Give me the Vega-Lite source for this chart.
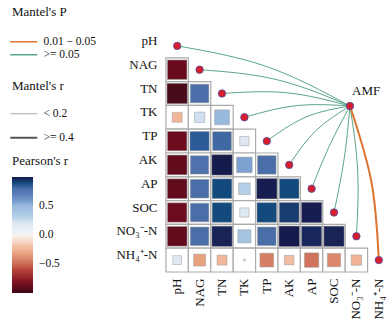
{
  "$schema": "https://vega.github.io/schema/vega-lite/v6.json",
  "width": 224,
  "height": 238,
  "autosize": {"type": "none"},
  "padding": {"left": 166, "top": 34, "right": 1, "bottom": 54},
  "background": "white",
  "config": {
    "view": {"stroke": null},
    "font": "Liberation Serif",
    "axis": {"labelFont": "Liberation Serif", "labelFontSize": 13, "labelColor": "#111111", "domain": false, "ticks": false, "grid": false},
    "legend": {"titleFont": "Liberation Serif", "labelFont": "Liberation Serif", "titleFontWeight": "normal", "titleFontSize": 13, "labelFontSize": 11.5, "titleColor": "#111111", "labelColor": "#111111"}
  },
  "resolve": {"scale": {"x": "independent", "y": "independent"}},
  "layer": [
    {
      "data": {"values": [
        {"row": "NAG", "col": "pH", "r": -0.88},
        {"row": "TN", "col": "pH", "r": -0.96},
        {"row": "TN", "col": "NAG", "r": 0.8},
        {"row": "TK", "col": "pH", "r": -0.23},
        {"row": "TK", "col": "NAG", "r": 0.25},
        {"row": "TK", "col": "TN", "r": 0.51},
        {"row": "TP", "col": "pH", "r": -0.87},
        {"row": "TP", "col": "NAG", "r": 0.86},
        {"row": "TP", "col": "TN", "r": 0.82},
        {"row": "TP", "col": "TK", "r": 0.2},
        {"row": "AK", "col": "pH", "r": -0.9},
        {"row": "AK", "col": "NAG", "r": 0.78},
        {"row": "AK", "col": "TN", "r": 0.98},
        {"row": "AK", "col": "TK", "r": 0.56},
        {"row": "AK", "col": "TP", "r": 0.8},
        {"row": "AP", "col": "pH", "r": -0.9},
        {"row": "AP", "col": "NAG", "r": 0.8},
        {"row": "AP", "col": "TN", "r": 0.9},
        {"row": "AP", "col": "TK", "r": 0.31},
        {"row": "AP", "col": "TP", "r": 0.97},
        {"row": "AP", "col": "AK", "r": 0.9},
        {"row": "SOC", "col": "pH", "r": -0.87},
        {"row": "SOC", "col": "NAG", "r": 0.8},
        {"row": "SOC", "col": "TN", "r": 0.9},
        {"row": "SOC", "col": "TK", "r": 0.2},
        {"row": "SOC", "col": "TP", "r": 0.9},
        {"row": "SOC", "col": "AK", "r": 0.92},
        {"row": "SOC", "col": "AP", "r": 0.97},
        {"row": "NO₃⁻-N", "col": "pH", "r": -0.9},
        {"row": "NO₃⁻-N", "col": "NAG", "r": 0.8},
        {"row": "NO₃⁻-N", "col": "TN", "r": 0.96},
        {"row": "NO₃⁻-N", "col": "TK", "r": 0.4},
        {"row": "NO₃⁻-N", "col": "TP", "r": 0.8},
        {"row": "NO₃⁻-N", "col": "AK", "r": 0.98},
        {"row": "NO₃⁻-N", "col": "AP", "r": 0.95},
        {"row": "NO₃⁻-N", "col": "SOC", "r": 0.96},
        {"row": "NH₄⁺-N", "col": "pH", "r": 0.18},
        {"row": "NH₄⁺-N", "col": "NAG", "r": -0.33},
        {"row": "NH₄⁺-N", "col": "TN", "r": -0.23},
        {"row": "NH₄⁺-N", "col": "TK", "r": 0.01},
        {"row": "NH₄⁺-N", "col": "TP", "r": -0.44},
        {"row": "NH₄⁺-N", "col": "AK", "r": -0.21},
        {"row": "NH₄⁺-N", "col": "AP", "r": -0.48},
        {"row": "NH₄⁺-N", "col": "SOC", "r": -0.41},
        {"row": "NH₄⁺-N", "col": "NO₃⁻-N", "r": -0.25}
      ]},
      "encoding": {
        "x": {"field": "col", "type": "nominal",
              "scale": {"domain": ["pH", "NAG", "TN", "TK", "TP", "AK", "AP", "SOC", "NO₃⁻-N", "NH₄⁺-N"], "paddingInner": 0, "paddingOuter": 0},
              "axis": {"labelAngle": -90, "labelPadding": 6, "title": null, "labelFont": "Liberation Serif"}},
        "y": {"field": "row", "type": "nominal",
              "scale": {"domain": ["pH", "NAG", "TN", "TK", "TP", "AK", "AP", "SOC", "NO₃⁻-N", "NH₄⁺-N"], "paddingInner": 0, "paddingOuter": 0},
              "axis": {"labelPadding": 9, "labelOffset": -5, "title": null, "labelFont": "Liberation Serif"}}
      },
      "layer": [
        {"mark": {"type": "rect", "fill": "white", "stroke": "#ababab", "strokeWidth": 1.2}},
        {"mark": {"type": "square", "filled": true, "stroke": "#9a9a9a", "strokeWidth": 0.5, "opacity": 1},
         "encoding": {
           "fill": {"field": "r", "type": "quantitative",
             "scale": {
               "domain": [-1, -0.95, -0.88, -0.8, -0.6, -0.46, -0.4, -0.33, -0.22, -0.1, 0, 0.1, 0.2, 0.25, 0.31, 0.4, 0.51, 0.56, 0.7, 0.8, 0.86, 0.9, 0.93, 0.97, 1],
               "range": ["#3f0715", "#4b0b1b", "#6a0b1d", "#821524", "#b8443a", "#d47a62", "#dc8a6e", "#e8a07e", "#f2b99c", "#f8dccc", "#f5f3f2", "#e8eef6", "#dee8f3", "#d0e0f0", "#b4cfe7", "#a5c4e2", "#98badc", "#7ca0d0", "#5a80bb", "#4a6fa8", "#2a5a98", "#134a7e", "#1a3468", "#171d50", "#131848"]
             },
             "legend": {"title": "Pearson's r", "orient": "none", "legendX": -154, "legendY": 121, "direction": "vertical", "gradientLength": 116, "gradientThickness": 21, "titlePadding": 9, "values": [-0.5, 0, 0.5], "format": ".1f", "labelOffset": 6, "gradientStrokeWidth": 0,
               "encode": {
                 "title": {"update": {"font": {"value": "Liberation Serif"}, "fontWeight": {"value": "normal"}, "fontSize": {"value": 13}, "fill": {"value": "#111111"}}},
                 "labels": {"update": {"font": {"value": "Liberation Serif"}, "fontWeight": {"value": "normal"}, "fontSize": {"value": 11.5}, "fill": {"value": "#111111"}}}
               }}},
           "size": {"field": "r", "type": "quantitative", "scale": {"domain": [-1, 0, 1], "range": [430, 0, 430]}, "legend": null}
         }}
      ]
    },
    {
      "layer": [
        {
          "data": {"values": [
            {"to": "pH", "seq": 0, "x": 0.5, "y": 0.5, "p": ">= 0.05", "mr": "< 0.2"},
            {"to": "pH", "seq": 1, "x": 4.5, "y": 1.37, "p": ">= 0.05", "mr": "< 0.2"},
            {"to": "pH", "seq": 2, "x": 8.214, "y": 3.025, "p": ">= 0.05", "mr": "< 0.2"},
            {"to": "NAG", "seq": 0, "x": 1.5, "y": 1.5, "p": ">= 0.05", "mr": "< 0.2"},
            {"to": "NAG", "seq": 1, "x": 4.955, "y": 1.92, "p": ">= 0.05", "mr": "< 0.2"},
            {"to": "NAG", "seq": 2, "x": 8.214, "y": 3.025, "p": ">= 0.05", "mr": "< 0.2"},
            {"to": "TN", "seq": 0, "x": 2.5, "y": 2.5, "p": ">= 0.05", "mr": "< 0.2"},
            {"to": "TN", "seq": 1, "x": 5.39, "y": 2.47, "p": ">= 0.05", "mr": "< 0.2"},
            {"to": "TN", "seq": 2, "x": 8.214, "y": 3.025, "p": ">= 0.05", "mr": "< 0.2"},
            {"to": "TK", "seq": 0, "x": 3.5, "y": 3.5, "p": ">= 0.05", "mr": "< 0.2"},
            {"to": "TK", "seq": 1, "x": 5.83, "y": 3.01, "p": ">= 0.05", "mr": "< 0.2"},
            {"to": "TK", "seq": 2, "x": 8.214, "y": 3.025, "p": ">= 0.05", "mr": "< 0.2"},
            {"to": "TP", "seq": 0, "x": 4.5, "y": 4.5, "p": ">= 0.05", "mr": "< 0.2"},
            {"to": "TP", "seq": 1, "x": 6.25, "y": 3.49, "p": ">= 0.05", "mr": "< 0.2"},
            {"to": "TP", "seq": 2, "x": 8.214, "y": 3.025, "p": ">= 0.05", "mr": "< 0.2"},
            {"to": "AK", "seq": 0, "x": 5.5, "y": 5.5, "p": ">= 0.05", "mr": "< 0.2"},
            {"to": "AK", "seq": 1, "x": 6.67, "y": 4.08, "p": ">= 0.05", "mr": "< 0.2"},
            {"to": "AK", "seq": 2, "x": 8.214, "y": 3.025, "p": ">= 0.05", "mr": "< 0.2"},
            {"to": "AP", "seq": 0, "x": 6.5, "y": 6.5, "p": ">= 0.05", "mr": "< 0.2"},
            {"to": "AP", "seq": 1, "x": 7.28, "y": 4.73, "p": ">= 0.05", "mr": "< 0.2"},
            {"to": "AP", "seq": 2, "x": 8.214, "y": 3.025, "p": ">= 0.05", "mr": "< 0.2"},
            {"to": "SOC", "seq": 0, "x": 7.5, "y": 7.5, "p": ">= 0.05", "mr": "< 0.2"},
            {"to": "SOC", "seq": 1, "x": 7.95, "y": 5.27, "p": ">= 0.05", "mr": "< 0.2"},
            {"to": "SOC", "seq": 2, "x": 8.214, "y": 3.025, "p": ">= 0.05", "mr": "< 0.2"},
            {"to": "NO3", "seq": 0, "x": 8.5, "y": 8.5, "p": ">= 0.05", "mr": "< 0.2"},
            {"to": "NO3", "seq": 1, "x": 8.56, "y": 5.76, "p": ">= 0.05", "mr": "< 0.2"},
            {"to": "NO3", "seq": 2, "x": 8.214, "y": 3.025, "p": ">= 0.05", "mr": "< 0.2"},
            {"to": "NH4", "seq": 0, "x": 9.5, "y": 9.5, "p": "0.01 − 0.05", "mr": ">= 0.4"},
            {"to": "NH4", "seq": 1, "x": 9.17, "y": 6.21, "p": "0.01 − 0.05", "mr": ">= 0.4"},
            {"to": "NH4", "seq": 2, "x": 8.214, "y": 3.025, "p": "0.01 − 0.05", "mr": ">= 0.4"}
          ]},
          "mark": {"type": "line", "interpolate": "natural"},
          "encoding": {
            "x": {"field": "x", "type": "quantitative", "scale": {"domain": [0, 10], "nice": false, "zero": false}, "axis": null},
            "y": {"field": "y", "type": "quantitative", "scale": {"domain": [0, 10], "nice": false, "zero": false, "reverse": true}, "axis": null},
            "order": {"field": "seq", "type": "quantitative"},
            "detail": {"field": "to", "type": "nominal"},
            "stroke": {"field": "p", "type": "nominal",
              "scale": {"domain": ["0.01 − 0.05", ">= 0.05"], "range": ["#dd7430", "#5aa68a"]},
              "legend": {"title": "Mantel's P", "orient": "none", "legendX": -154, "legendY": -28, "symbolType": "M-4.5,0H4.5", "symbolSize": 36, "symbolStrokeWidth": 1.5, "titlePadding": 17, "rowPadding": 0, "symbolOffset": 6, "labelOffset": 14,
                "encode": {
                  "title": {"update": {"font": {"value": "Liberation Serif"}, "fontWeight": {"value": "normal"}, "fontSize": {"value": 13}, "fill": {"value": "#111111"}}},
                  "labels": {"update": {"font": {"value": "Liberation Serif"}, "fontWeight": {"value": "normal"}, "fontSize": {"value": 11.5}, "fill": {"value": "#111111"}}}
                }}},
            "strokeWidth": {"field": "mr", "type": "ordinal",
              "scale": {"domain": ["< 0.2", ">= 0.4"], "range": [1, 2]},
              "legend": {"title": "Mantel's r", "orient": "none", "legendX": -154, "legendY": 46, "symbolType": "M-4.5,0H4.5", "symbolSize": 36, "titlePadding": 15, "rowPadding": 11, "symbolOffset": 6, "labelOffset": 14,
                "encode": {
                  "title": {"update": {"font": {"value": "Liberation Serif"}, "fontWeight": {"value": "normal"}, "fontSize": {"value": 13}, "fill": {"value": "#111111"}}},
                  "labels": {"update": {"font": {"value": "Liberation Serif"}, "fontWeight": {"value": "normal"}, "fontSize": {"value": 11.5}, "fill": {"value": "#111111"}}},
                  "symbols": {"update": {"stroke": {"signal": "datum.value === '< 0.2' ? '#a8a8a8' : '#555555'"}}}
                }}}
          }
        },
        {
          "data": {"values": [
            {"node": "pH", "x": 0.5, "y": 0.5},
            {"node": "NAG", "x": 1.5, "y": 1.5},
            {"node": "TN", "x": 2.5, "y": 2.5},
            {"node": "TK", "x": 3.5, "y": 3.5},
            {"node": "TP", "x": 4.5, "y": 4.5},
            {"node": "AK", "x": 5.5, "y": 5.5},
            {"node": "AP", "x": 6.5, "y": 6.5},
            {"node": "SOC", "x": 7.5, "y": 7.5},
            {"node": "NO3", "x": 8.5, "y": 8.5},
            {"node": "NH4", "x": 9.5, "y": 9.5},
            {"node": "AMF", "x": 8.214, "y": 3.025}
          ]},
          "mark": {"type": "circle", "fill": "#d81e2c", "stroke": "#4d4a9e", "strokeWidth": 0.8, "size": 55, "opacity": 1},
          "encoding": {
            "x": {"field": "x", "type": "quantitative"},
            "y": {"field": "y", "type": "quantitative"}
          }
        },
        {
          "data": {"values": [{"label": "AMF", "x": 8.214, "y": 3.025}]},
          "mark": {"type": "text", "align": "left", "baseline": "alphabetic", "dx": 2, "dy": -10.5, "fontSize": 13, "font": "Liberation Serif", "color": "#111111"},
          "encoding": {
            "x": {"field": "x", "type": "quantitative"},
            "y": {"field": "y", "type": "quantitative"},
            "text": {"field": "label"}
          }
        }
      ]
    }
  ]
}
